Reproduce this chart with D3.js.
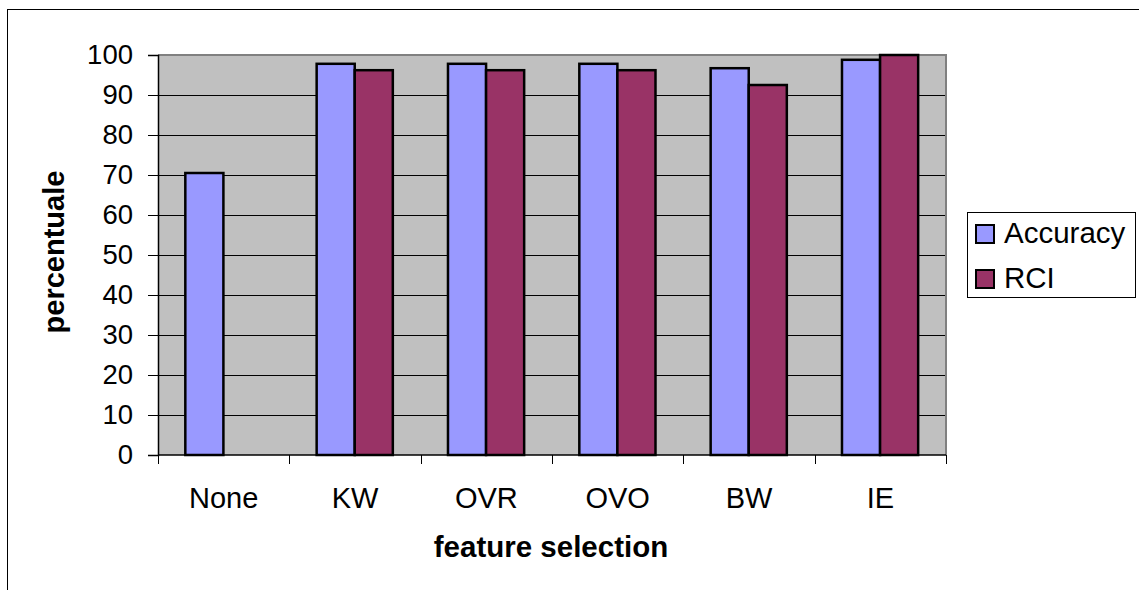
<!DOCTYPE html>
<html>
<head>
<meta charset="utf-8">
<script src="https://cdn.jsdelivr.net/npm/d3@7"></script>
<style>
  html, body { margin: 0; padding: 0; background: #fff; }
  svg { display: block; font-family: "Liberation Sans", Arial, sans-serif; }
</style>
</head>
<body>
<svg id="chart" width="1139" height="590"></svg>
<script>
// Feature-selection methods and the two measured series (percent)
const categories = ["None", "KW", "OVR", "OVO", "BW", "IE"];
const seriesNames = ["Accuracy", "RCI"];
const accuracy = [70.5, 97.8, 97.8, 97.8, 96.7, 98.8];
const rci = [null, 96.2, 96.2, 96.2, 92.5, 100];
const yTicks = [0, 10, 20, 30, 40, 50, 60, 70, 80, 90, 100];
const colors = ["#9999FF", "#993366"];

const svg = d3.select("#chart");

// Outer chart frame (runs past the right and bottom edges of the page)
svg.append("rect")
  .attr("x", 7.5).attr("y", 9.5)
  .attr("width", 1300).attr("height", 800)
  .attr("fill", "none").attr("stroke", "#000").attr("stroke-width", 1);

const plot = { left: 158, right: 946, top: 55, bottom: 455 };

const x0 = d3.scaleBand().domain(categories).range([plot.left, plot.right]).padding(0);
const bw = x0.bandwidth();
const x1 = d3.scaleBand().domain(seriesNames).range([bw * 0.208, bw * 0.788]).padding(0);
const y = d3.scaleLinear().domain([0, 100]).range([plot.bottom, plot.top]);

// Plot background
svg.append("rect")
  .attr("x", plot.left).attr("y", plot.top)
  .attr("width", plot.right - plot.left).attr("height", plot.bottom - plot.top)
  .attr("fill", "#C0C0C0");

// Horizontal gridlines
svg.append("g").selectAll("line")
  .data(yTicks.filter(t => t > 0 && t < 100))
  .join("line")
  .attr("x1", plot.left).attr("x2", plot.right)
  .attr("y1", d => Math.round(y(d)) + 0.5).attr("y2", d => Math.round(y(d)) + 0.5)
  .attr("stroke", "#000").attr("stroke-width", 1);

// Gray frame on the top and right of the plot area
svg.append("path")
  .attr("d", `M${plot.left},${plot.top} H${plot.right} V${plot.bottom}`)
  .attr("fill", "none").attr("stroke", "#808080").attr("stroke-width", 2);

// Bars
const rows = categories.map((c, i) => ({ cat: c, vals: [accuracy[i], rci[i]] }));
const groups = svg.append("g").selectAll("g")
  .data(rows).join("g")
  .attr("transform", d => `translate(${x0(d.cat)},0)`);
groups.selectAll("rect")
  .data(d => d.vals.map((v, j) => ({ name: seriesNames[j], v, j })).filter(e => e.v != null))
  .join("rect")
  .attr("x", d => x1(d.name))
  .attr("width", x1.bandwidth())
  .attr("y", d => y(d.v))
  .attr("height", d => y(0) - y(d.v))
  .attr("fill", d => colors[d.j])
  .attr("stroke", "#000").attr("stroke-width", 2.5);

// Y axis
const yAxis = d3.axisLeft(y).tickValues(yTicks).tickSize(10).tickPadding(15);
const yg = svg.append("g").attr("transform", `translate(${plot.left},0)`).call(yAxis);
yg.select(".domain").attr("stroke", "#000").attr("stroke-width", 1.5);
yg.selectAll(".tick line").attr("stroke", "#000");
yg.selectAll(".tick text").attr("font-size", 27.5).attr("fill", "#000")
  .attr("font-family", "'Liberation Sans', Arial, sans-serif");

// X axis with boundary ticks between categories
const xg = svg.append("g").attr("transform", `translate(0,${plot.bottom})`);
xg.append("line").attr("x1", plot.left).attr("x2", plot.right)
  .attr("y1", 0).attr("y2", 0).attr("stroke", "#000").attr("stroke-width", 1.5);
const bounds = categories.map(c => x0(c)).concat([plot.right]);
xg.selectAll("line.b").data(bounds).join("line").attr("class", "b")
  .attr("x1", d => Math.round(d) + 0.5).attr("x2", d => Math.round(d) + 0.5)
  .attr("y1", 0).attr("y2", 9).attr("stroke", "#000");
xg.selectAll("text").data(categories).join("text")
  .attr("x", d => x0(d) + bw / 2).attr("y", 53)
  .attr("text-anchor", "middle").attr("font-size", 29).attr("fill", "#000")
  .text(d => d);

// Axis titles
svg.append("text")
  .attr("x", (plot.left + plot.right) / 2 - 1).attr("y", 557)
  .attr("text-anchor", "middle").attr("font-size", 29.5).attr("font-weight", "bold")
  .text("feature selection");
svg.append("text")
  .attr("transform", `translate(64,${(plot.top + plot.bottom) / 2 - 3}) rotate(-90)`)
  .attr("text-anchor", "middle").attr("font-size", 29).attr("font-weight", "bold")
  .text("percentuale");

// Legend
const lg = svg.append("g");
lg.append("rect").attr("x", 967.5).attr("y", 212.5).attr("width", 168).attr("height", 85)
  .attr("fill", "#fff").attr("stroke", "#000").attr("stroke-width", 1);
const items = lg.selectAll("g.item").data(seriesNames).join("g").attr("class", "item")
  .attr("transform", (d, i) => `translate(0,${i * 45})`);
items.append("rect").attr("x", 976).attr("y", 225).attr("width", 18).attr("height", 18)
  .attr("fill", (d, i) => colors[i]).attr("stroke", "#000").attr("stroke-width", 2);
items.append("text").attr("x", 1004).attr("y", 242.5).attr("font-size", 29.5).attr("fill", "#000")
  .text(d => d);
</script>
</body>
</html>
